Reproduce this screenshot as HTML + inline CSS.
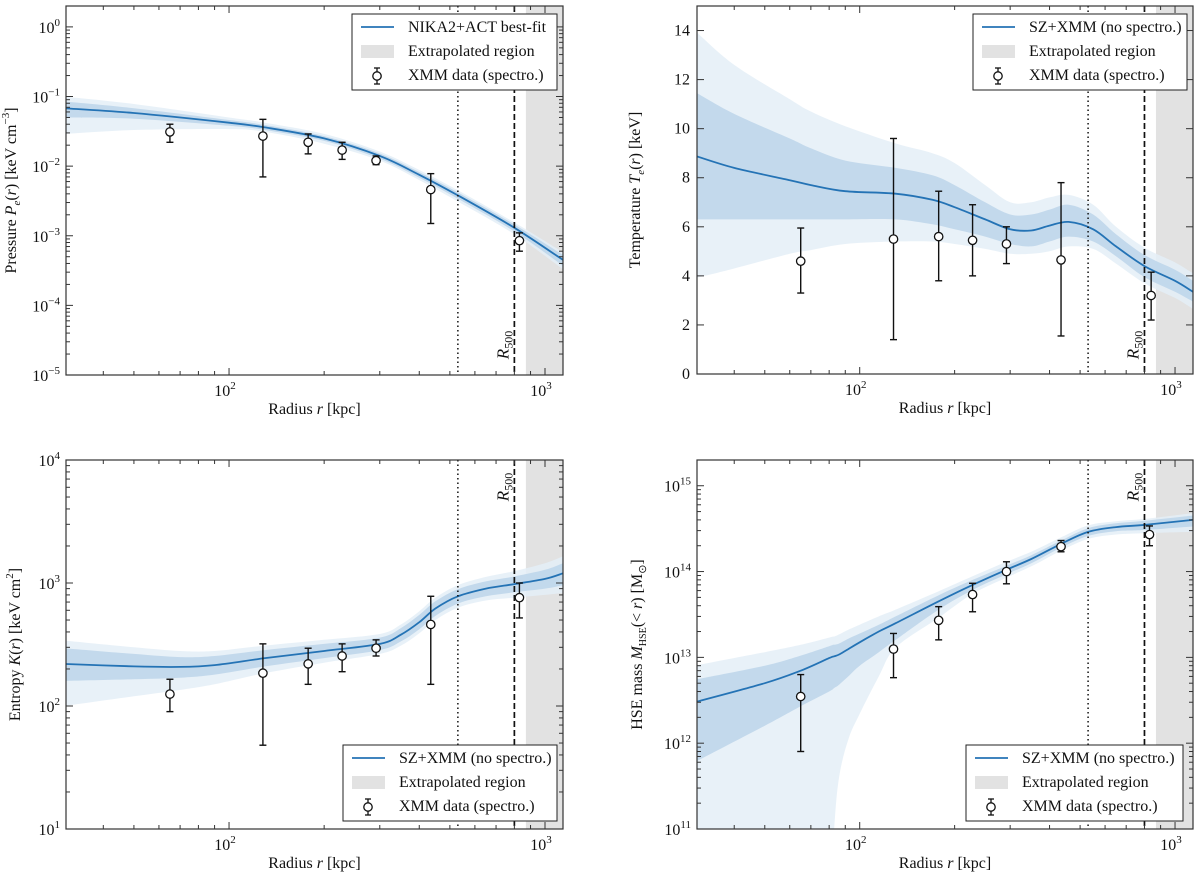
<!DOCTYPE html>
<html><head><meta charset="utf-8"><style>
body{margin:0;background:#fff}
svg text{font-family:"Liberation Serif",serif;fill:#111}
</style></head><body>
<svg id="fig" width="1200" height="878" xmlns="http://www.w3.org/2000/svg"></svg>
<script>
// ---------- Data ----------
const p1Radii=[30,50,100,130,200,300,400,530,800,1140];
const p1Curve=[0.068,0.058,0.042,0.036,0.025,0.014,0.0075,0.0038,0.0013,0.00045];
const p1InLo=[0.05,0.048,0.038,0.033,0.023,0.0128,0.0068,0.0034,0.00115,0.00037];
const p1InHi=[0.085,0.068,0.046,0.039,0.027,0.0152,0.0082,0.0042,0.00145,0.00053];
const p1OutLo=[0.029,0.033,0.034,0.031,0.021,0.012,0.0063,0.0031,0.00105,0.00033];
const p1OutHi=[0.1,0.078,0.05,0.042,0.029,0.0162,0.0088,0.0045,0.00155,0.00058];
const p1DataR=[65,128,178,228,292,435,830];
const p1DataV=[0.031,0.027,0.022,0.017,0.012,0.0046,0.00085];
const p1DataLo=[0.022,0.007,0.015,0.0125,0.0105,0.0015,0.0006];
const p1DataHi=[0.04,0.047,0.029,0.022,0.014,0.0078,0.0011];

const p2Radii=[30,40,60,70,90,130,170,200,250,300,350,400,460,550,650,800,1000,1140];
const p2Curve=[8.9,8.4,7.9,7.7,7.45,7.35,7.1,6.8,6.3,5.9,5.85,6.05,6.2,5.9,5.2,4.4,3.8,3.35];
const p2InLo=[6.3,6.3,6.3,6.3,6.3,6.3,6.1,5.9,5.6,5.3,5.2,5.4,5.6,5.4,4.8,3.95,3.35,2.95];
const p2InHi=[11.5,10.6,9.6,9.2,8.7,8.4,8.1,7.7,7.0,6.5,6.5,6.7,6.9,6.5,5.7,4.85,4.25,3.8];
const p2OutLo=[3.9,4.3,4.9,5.05,5.3,5.4,5.4,5.3,5.1,4.9,4.9,5.0,5.2,5.1,4.5,3.7,3.1,2.65];
const p2OutHi=[14,12.6,11.2,10.7,10.1,9.4,9.0,8.6,7.7,7.0,7.0,7.2,7.3,6.9,6.0,5.15,4.55,4.1];
const p2DataR=[65,128,178,228,292,435,840];
const p2DataV=[4.6,5.5,5.6,5.45,5.3,4.65,3.2];
const p2DataLo=[3.3,1.4,3.8,4.0,4.5,1.55,2.2];
const p2DataHi=[5.95,9.6,7.45,6.9,6.0,7.8,4.15];

const p3Radii=[30,50,70,90,130,200,300,350,400,450,530,650,800,1000,1140];
const p3Curve=[220,210,208,215,245,280,320,380,480,620,780,900,980,1080,1200];
const p3InLo=[160,165,170,180,210,245,285,335,420,540,680,780,840,900,960];
const p3InHi=[295,265,250,255,285,320,360,430,550,710,890,1030,1130,1280,1450];
const p3OutLo=[100,120,135,150,185,225,265,310,390,500,630,720,760,800,830];
const p3OutHi=[340,300,280,280,310,345,385,460,590,760,960,1120,1250,1450,1650];
const p3DataR=[65,128,178,228,292,435,830];
const p3DataV=[125,185,220,255,295,460,760];
const p3DataLo=[90,48,150,190,255,150,520];
const p3DataHi=[165,320,295,320,345,780,1000];

const p4Radii=[30,50,65,80,83,86,92,100,115,130,178,228,292,350,435,530,650,800,1140];
const p4Curve=[3e12,5e12,7e12,9.8e12,1.03e13,1.08e13,1.25e13,1.5e13,2e13,2.5e13,4.5e13,7e13,1.05e14,1.4e14,2.1e14,2.9e14,3.3e14,3.5e14,4e14];
const p4InLo=[6e11,1.6e12,2.7e12,4e12,4.4e12,4.8e12,6e12,8e12,1.15e13,1.6e13,3.6e13,6.1e13,9.3e13,1.25e14,1.9e14,2.6e14,2.95e14,3.05e14,3.35e14];
const p4InHi=[5.5e12,8e12,1.05e13,1.35e13,1.4e13,1.45e13,1.65e13,1.9e13,2.4e13,3e13,5.3e13,8e13,1.17e14,1.55e14,2.3e14,3.2e14,3.65e14,3.9e14,4.5e14];
const p4OutLo=[1e10,1e10,1e10,1e10,1e11,4e11,1.1e12,2.2e12,6e12,1.3e13,2.9e13,5.5e13,8.5e13,1.15e14,1.75e14,2.4e14,2.7e14,2.8e14,2.9e14];
const p4OutHi=[8e12,1.15e13,1.4e13,1.7e13,1.75e13,1.85e13,2.1e13,2.4e13,3e13,3.6e13,5.9e13,8.8e13,1.3e14,1.7e14,2.5e14,3.45e14,3.85e14,4.1e14,4.8e14];
const p4DataR=[65,128,178,228,292,435,830];
const p4DataV=[3.5e12,1.25e13,2.7e13,5.4e13,1.0e14,1.95e14,2.7e14];
const p4DataLo=[8e11,5.8e12,1.6e13,3.4e13,7.2e13,1.7e14,2.0e14];
const p4DataHi=[6.3e12,1.9e13,3.9e13,7.3e13,1.3e14,2.3e14,3.4e14];

const rDotted=530, rR500=800, rExtrap=870;
const xMinLog=1.484, xMaxLog=3.057;

// ---------- Rendering ----------
const NS="http://www.w3.org/2000/svg";
const svg=document.getElementById('fig');
function el(tag,attrs,parent){const e=document.createElementNS(NS,tag);for(const k in attrs)e.setAttribute(k,attrs[k]);(parent||svg).appendChild(e);return e;}

const C_LINE="#2473b5", C_IN="#bcd5ea", C_OUT="#e4eef7", C_GRAY="#e2e2e2";

// smooth path through points (Catmull-Rom -> Bezier)
function smooth(pts,start){
  let d=(start?'M':'L')+pts[0][0].toFixed(1)+','+pts[0][1].toFixed(1);
  for(let i=0;i<pts.length-1;i++){
    const p0=pts[Math.max(i-1,0)],p1=pts[i],p2=pts[i+1],p3=pts[Math.min(i+2,pts.length-1)];
    const c1=[p1[0]+(p2[0]-p0[0])/6,p1[1]+(p2[1]-p0[1])/6];
    const c2=[p2[0]-(p3[0]-p1[0])/6,p2[1]-(p3[1]-p1[1])/6];
    d+='C'+c1[0].toFixed(1)+','+c1[1].toFixed(1)+' '+c2[0].toFixed(1)+','+c2[1].toFixed(1)+' '+p2[0].toFixed(1)+','+p2[1].toFixed(1);
  }
  return d;
}

function panel(cfg){
  const g=el('g',{});
  
  
  const {x0,x1,y0,y1}=cfg;
  const X=r=>x0+(Math.log10(r)-xMinLog)/(xMaxLog-xMinLog)*(x1-x0);
  const Y=cfg.log?(v=>y1-(Math.log10(Math.max(v,1e-30))-cfg.ymin)/(cfg.ymax-cfg.ymin)*(y1-y0))
                 :(v=>y1-(v-cfg.ymin)/(cfg.ymax-cfg.ymin)*(y1-y0));
  const cid='clip-'+cfg.name;
  const cp=el('clipPath',{id:cid},g);el('rect',{x:x0,y:y0,width:x1-x0,height:y1-y0},cp);
  const pg=el('g',{'clip-path':'url(#'+cid+')'},g);
  const ex=el('rect',{x:X(rExtrap),y:y0,width:x1-X(rExtrap),height:y1-y0,fill:C_GRAY},pg);
  
  
  function band(lo,hi,fill,name){
    const up=cfg.radii.map((r,i)=>[X(r),Y(hi[i])]);
    const dn=cfg.radii.map((r,i)=>[X(r),Y(lo[i])]).reverse();
    const p=el('path',{d:smooth(up,true)+smooth(dn,false)+'Z',fill:fill,opacity:0.85},pg);
    
    
  }
  band(cfg.outLo,cfg.outHi,C_OUT,'outer-confidence-band');
  band(cfg.inLo,cfg.inHi,C_IN,'inner-confidence-band');
  const ln=el('path',{d:smooth(cfg.radii.map((r,i)=>[X(r),Y(cfg.curve[i])]),true),fill:'none',stroke:C_LINE,'stroke-width':1.8},pg);
  
  
  const vd=el('line',{x1:X(rDotted),x2:X(rDotted),y1:y0,y2:y1,stroke:'#111','stroke-width':1.5,'stroke-dasharray':'1.5,3'},pg);
  
  
  const vr=el('line',{x1:X(rR500),x2:X(rR500),y1:y0,y2:y1,stroke:'#111','stroke-width':1.7,'stroke-dasharray':'6,3'},pg);
  
  
  cfg.dR.forEach((r,i)=>{
    const dg=el('g',{},pg);
    
    
    const x=X(r);
    el('line',{x1:x,x2:x,y1:Y(cfg.dLo[i]),y2:Y(cfg.dHi[i]),stroke:'#111','stroke-width':1.4},dg);
    el('line',{x1:x-3.5,x2:x+3.5,y1:Y(cfg.dLo[i]),y2:Y(cfg.dLo[i]),stroke:'#111','stroke-width':1.4},dg);
    el('line',{x1:x-3.5,x2:x+3.5,y1:Y(cfg.dHi[i]),y2:Y(cfg.dHi[i]),stroke:'#111','stroke-width':1.4},dg);
    el('circle',{cx:x,cy:Y(cfg.dV[i]),r:4.2,fill:'#fff',stroke:'#111','stroke-width':1.3},dg);
  });
  const rl=el('text',{x:0,y:0,'font-size':17,'text-anchor':'middle',transform:`translate(${X(rR500)-6},${cfg.r500y}) rotate(-90)`},g);
  
  
  rl.innerHTML='<tspan font-style="italic">R</tspan><tspan font-size="12" dy="4">500</tspan>';
  const fr=el('rect',{x:x0,y:y0,width:x1-x0,height:y1-y0,fill:'none',stroke:'#333','stroke-width':1.2},g);
  
  
  const tk=el('g',{stroke:'#333','stroke-width':1},g);
  
  
  for(let dec=1;dec<=3;dec++)for(let m=1;m<10;m++){
    const r=m*Math.pow(10,dec);const lr=Math.log10(r);if(lr<xMinLog||lr>xMaxLog)continue;
    const x=X(r),L=m===1?7:4;
    el('line',{x1:x,x2:x,y1:y1,y2:y1-L},tk);el('line',{x1:x,x2:x,y1:y0,y2:y0+L},tk);
  }
  [2,3].forEach(e=>{
    const t=el('text',{x:X(Math.pow(10,e))-4,y:y1+21,'font-size':16,'text-anchor':'middle'},g);
    
    
    t.innerHTML='10<tspan font-size="11" dy="-7">'+e+'</tspan>';
  });
  const xl=el('text',{x:(x0+x1)/2,y:y1+39,'font-size':16,'text-anchor':'middle'},g);
  
  
  xl.innerHTML='Radius <tspan font-style="italic">r</tspan> [kpc]';
  if(cfg.log){
    for(let dec=Math.floor(cfg.ymin);dec<=Math.ceil(cfg.ymax);dec++)for(let m=1;m<10;m++){
      const lv=dec+Math.log10(m);if(lv<cfg.ymin-1e-9||lv>cfg.ymax)continue;
      const y=Y(Math.pow(10,lv)),L=m===1?7:4;
      el('line',{x1:x0,x2:x0+L,y1:y,y2:y},tk);el('line',{x1:x1,x2:x1-L,y1:y,y2:y},tk);
      if(m===1){
        const t=el('text',{x:x0-6,y:y+6,'font-size':16,'text-anchor':'end'},g);
        
        
        t.innerHTML='10<tspan font-size="11" dy="-7">'+(dec<0?'\u2212'+(-dec):dec)+'</tspan>';
      }
    }
  } else {
    for(let v=cfg.ymin;v<=cfg.ymax;v+=2){
      const y=Y(v);
      el('line',{x1:x0,x2:x0+7,y1:y,y2:y},tk);el('line',{x1:x1,x2:x1-7,y1:y,y2:y},tk);
      const t=el('text',{x:x0-7,y:y+5,'font-size':16,'text-anchor':'end'},g);
      
      
      t.textContent=v;
    }
  }
  const yl=el('text',{x:0,y:0,'font-size':16,'text-anchor':'middle',transform:`translate(${cfg.ylx},${(y0+y1)/2}) rotate(-90)`},g);
  
  
  yl.innerHTML=cfg.ylabel;
  const lg=el('g',{},g);
  
  
  const lx=cfg.lx,ly=cfg.ly,lw=cfg.lw;
  el('rect',{x:lx,y:ly,width:lw,height:76,fill:'#fff',stroke:'#222','stroke-width':1},lg);
  const e1=el('line',{x1:lx+9,x2:lx+42,y1:ly+13,y2:ly+13,stroke:C_LINE,'stroke-width':1.8},lg);
  
  
  el('text',{x:lx+56,y:ly+18,'font-size':16},lg).textContent=cfg.lineLabel;
  const e2=el('rect',{x:lx+9,y:ly+31,width:33,height:13,fill:C_GRAY},lg);
  
  
  el('text',{x:lx+56,y:ly+42,'font-size':16},lg).textContent='Extrapolated region';
  const cx=lx+25,cy=ly+62;
  el('line',{x1:cx,x2:cx,y1:cy-8,y2:cy+8,stroke:'#111','stroke-width':1.3},lg);
  el('line',{x1:cx-3,x2:cx+3,y1:cy-8,y2:cy-8,stroke:'#111','stroke-width':1.3},lg);
  el('line',{x1:cx-3,x2:cx+3,y1:cy+8,y2:cy+8,stroke:'#111','stroke-width':1.3},lg);
  const e3=el('circle',{cx:cx,cy:cy,r:4.2,fill:'#fff',stroke:'#111','stroke-width':1.3},lg);
  
  
  el('text',{x:lx+56,y:ly+66,'font-size':16},lg).textContent='XMM data (spectro.)';
}

panel({name:'pressure-panel',x0:66,x1:563,y0:6,y1:375,log:true,ymin:-5,ymax:0.3,
  radii:p1Radii,curve:p1Curve,inLo:p1InLo,inHi:p1InHi,outLo:p1OutLo,outHi:p1OutHi,
  dR:p1DataR,dV:p1DataV,dLo:p1DataLo,dHi:p1DataHi,r500y:345,ylx:16,
  ylabel:'Pressure <tspan font-style="italic">P</tspan><tspan font-style="italic" font-size="11" dy="4">e</tspan><tspan dy="-4">(</tspan><tspan font-style="italic">r</tspan>) [keV cm<tspan font-size="11" dy="-7">\u22123</tspan><tspan dy="7">]</tspan>',
  lx:352,ly:14,lw:205,lineLabel:'NIKA2+ACT best-fit'});
panel({name:'temperature-panel',x0:697,x1:1193,y0:6,y1:374,log:false,ymin:0,ymax:15,
  radii:p2Radii,curve:p2Curve,inLo:p2InLo,inHi:p2InHi,outLo:p2OutLo,outHi:p2OutHi,
  dR:p2DataR,dV:p2DataV,dLo:p2DataLo,dHi:p2DataHi,r500y:345,ylx:640,
  ylabel:'Temperature <tspan font-style="italic">T</tspan><tspan font-style="italic" font-size="11" dy="4">e</tspan><tspan dy="-4">(</tspan><tspan font-style="italic">r</tspan>) [keV]',
  lx:973,ly:14,lw:214,lineLabel:'SZ+XMM (no spectro.)'});
panel({name:'entropy-panel',x0:66,x1:563,y0:460,y1:829,log:true,ymin:1,ymax:4,
  radii:p3Radii,curve:p3Curve,inLo:p3InLo,inHi:p3InHi,outLo:p3OutLo,outHi:p3OutHi,
  dR:p3DataR,dV:p3DataV,dLo:p3DataLo,dHi:p3DataHi,r500y:487,ylx:20,
  ylabel:'Entropy <tspan font-style="italic">K</tspan>(<tspan font-style="italic">r</tspan>) [keV cm<tspan font-size="11" dy="-7">2</tspan><tspan dy="7">]</tspan>',
  lx:343,ly:745,lw:214,lineLabel:'SZ+XMM (no spectro.)'});
panel({name:'mass-panel',x0:697,x1:1193,y0:460,y1:829,log:true,ymin:11,ymax:15.3,
  radii:p4Radii,curve:p4Curve,inLo:p4InLo,inHi:p4InHi,outLo:p4OutLo,outHi:p4OutHi,
  dR:p4DataR,dV:p4DataV,dLo:p4DataLo,dHi:p4DataHi,r500y:487,ylx:642,
  ylabel:'HSE mass <tspan font-style="italic">M</tspan><tspan font-size="10" dy="4">HSE</tspan><tspan dy="-4">(&lt; </tspan><tspan font-style="italic">r</tspan>) [M<tspan font-size="11" dy="4">\u2299</tspan><tspan dy="-4">]</tspan>',
  lx:966,ly:745,lw:217,lineLabel:'SZ+XMM (no spectro.)'});
</script>
</body></html>
